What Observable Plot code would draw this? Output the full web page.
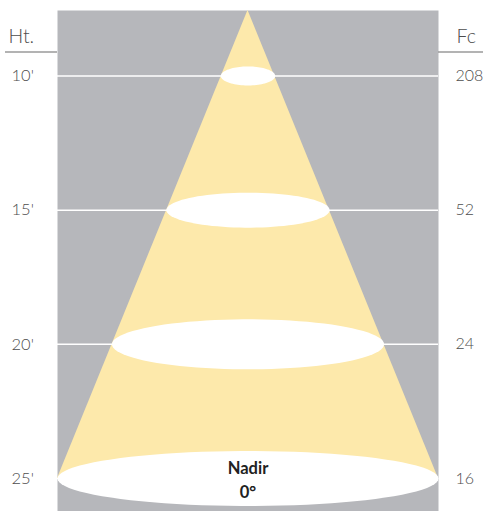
<!DOCTYPE html>
<html><head><meta charset="utf-8">
<script src="https://cdn.jsdelivr.net/npm/d3@7"></script>
<script src="https://cdn.jsdelivr.net/npm/@observablehq/plot@0.6"></script>
<style>body{margin:0;background:#fff}</style>
</head><body><div id="chart"></div>
<script>
// ---- data ----
const heights = [10, 15, 20, 25];                 // mounting height (ft)
const heightLabels = ["10'", "15'", "20'", "25'"];
const footcandles = [208, 52, 24, 16];            // Fc at nadir
const beamDiameters = [2, 6, 10, 14];             // beam spread diameter (ft)
const apexHeight = 7.56;                          // luminaire position (ft)
const nadirLines = ["Nadir", "0°"];
const headers = {left: "Ht.", right: "Fc"};

// ---- drawing ----
const W = 484, H = 511;
const mL = 57, mR = 46, mT = 10, mB = 0;
const yDomain = [apexHeight, 26.23];
const xDomain = [-7, 7];
const pxPerFtY = (H - mT - mB) / (yDomain[1] - yDomain[0]);
const ellipseRyPx = [9.5, 17.5, 25, 27.5];       // perspective depth of each light pool

const rows = heights.map((h, i) => ({h, label: heightLabels[i], fc: footcandles[i], d: beamDiameters[i], ry: ellipseRyPx[i] / pxPerFtY}));
const cone = [{h: apexHeight, d: 0}, {h: heights[heights.length - 1], d: beamDiameters[beamDiameters.length - 1]}];

const N = 90;
const ellipsePts = rows.flatMap(r => d3.range(N).map(k => {
  const t = 2 * Math.PI * k / N;
  return {h: r.h, x: (r.d / 2) * Math.cos(t), y: r.h + r.ry * Math.sin(t)};
}));

const bottom = rows[rows.length - 1];
const font = "Lato, 'Open Sans', sans-serif";
const txt = "#4d4d4d";

const chart = Plot.plot({
  width: W, height: H,
  marginLeft: mL, marginRight: mR, marginTop: mT, marginBottom: mB,
  x: {domain: xDomain, axis: null},
  y: {domain: yDomain, reverse: true, axis: null},
  style: {fontFamily: font, background: "white"},
  marks: [
    Plot.frame({fill: "#b6b7bb", stroke: null}),
    Plot.areaX(cone, {y: "h", x1: d => -d.d / 2, x2: d => d.d / 2, fill: "#fde9ab"}),
    Plot.ruleY(rows, {y: "h", stroke: "white", strokeWidth: 1.5}),
    Plot.line(ellipsePts, {x: "x", y: "y", z: "h", curve: "linear-closed", fill: "white", stroke: null}),
    Plot.text(rows, {x: xDomain[0], y: "h", text: "label", dx: -46, textAnchor: "start", fontSize: 16.5, fontWeight: 300, fill: txt}),
    Plot.text(rows, {x: xDomain[1], y: "h", text: d => String(d.fc), dx: 17, textAnchor: "start", fontSize: 16, fontWeight: 300, fill: txt}),
    Plot.text([headers.left], {frameAnchor: "top-left", dx: -49, dy: 19, textAnchor: "start", fontSize: 19.5, fontWeight: 300, fill: txt}),
    Plot.text([headers.right], {frameAnchor: "top-right", dx: 18, dy: 19, textAnchor: "start", fontSize: 19.5, fontWeight: 300, fill: txt}),
    Plot.text([nadirLines.join("\n")], {x: 0, y: bottom.h, lineHeight: 1.45, fontSize: 16.5, fontWeight: 700, fill: "#222", lineAnchor: "middle"})
  ]
});

// header separators
const svg = d3.select(chart);
svg.append("line").attr("x1", 5).attr("x2", mL).attr("y1", 52).attr("y2", 52).attr("stroke", "#9a9a9a").attr("stroke-width", 1.5);
svg.append("line").attr("x1", W - mR).attr("x2", 483).attr("y1", 52).attr("y2", 52).attr("stroke", "#9a9a9a").attr("stroke-width", 1.5);

document.getElementById("chart").appendChild(chart);
</script>
</body></html>
